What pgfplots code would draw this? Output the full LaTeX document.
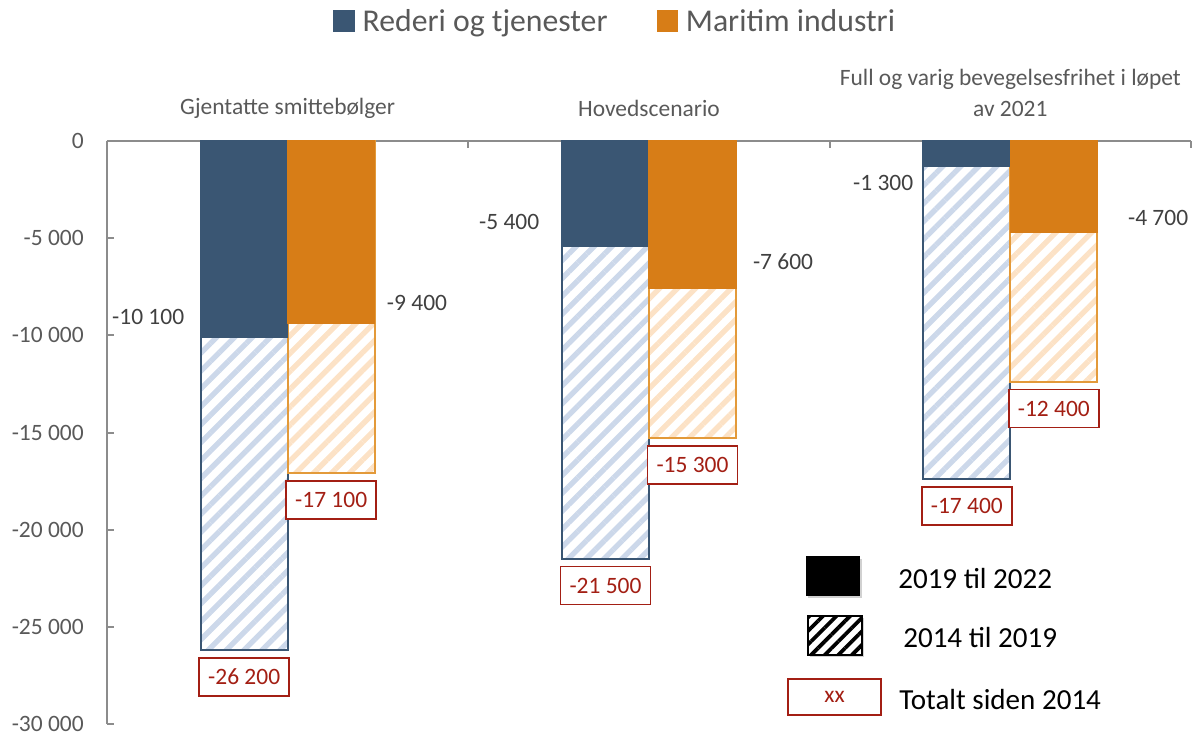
\documentclass[border=0pt]{standalone}
\usepackage{fontspec}
\setmainfont{Carlito}
\usepackage{pgfplots}
\pgfplotsset{compat=1.18}
\usetikzlibrary{patterns.meta}
\definecolor{cblue}{HTML}{3A5673}
\definecolor{corange}{HTML}{D77D17}
\definecolor{hblue}{HTML}{CCD8EA}
\definecolor{horange}{HTML}{FCE2C6}
\definecolor{oorange}{HTML}{E39A3A}
\definecolor{axgray}{HTML}{8C8C8C}
\definecolor{txgray}{HTML}{595959}
\definecolor{lblgray}{HTML}{404040}
\definecolor{dred}{HTML}{A31F14}
\tikzset{
  vallbl/.style={font=\fontsize{17.6}{20}\selectfont, text=lblgray, inner sep=0pt},
  grplbl/.style={font=\fontsize{17.6}{23.25}\selectfont, text=txgray, inner sep=0pt, align=center},
  totbox/.style={anchor=north, yshift=-5.25pt, draw=dred, text=dred, line width=1.1pt,
    minimum width=67.5pt, minimum height=28.5pt, fill=white, inner sep=0pt,
    font=\fontsize{17.6}{20}\selectfont},
}
\begin{document}
\begin{tikzpicture}[x=0.75pt,y=0.75pt]
\useasboundingbox (0,0) rectangle (1195,733);
\begin{axis}[
  at={(80.25pt,6.75pt)}, anchor=south west,
  scale only axis, width=813pt, height=437.25pt,
  xmin=-0.5, xmax=2.5, ymin=-30000, ymax=0,
  axis x line=top, axis y line=left,
  axis line style={axgray, line width=1.5pt, -},
  tick style={axgray, line width=1.5pt},
  major tick length=5.25pt, tick align=inside,
  xtick={-0.5,0.5,1.5,2.5}, xticklabels={},
  ytick={-30000,-25000,-20000,-15000,-10000,-5000,0},
  yticklabels={-30 000,-25 000,-20 000,-15 000,-10 000,-5 000,0},
  yticklabel style={font=\fontsize{17.6}{20}\selectfont, text=txgray, inner sep=0pt, anchor=east, xshift=-17.25pt},
  clip=false,
  legend columns=2,
  legend style={at={(0.2085,1.2058)}, anchor=west, draw=none, fill=none,
    font=\fontsize{23.8}{28}\selectfont, text=txgray, inner sep=0pt,
    nodes={inner sep=0pt}, column sep=6pt,
    /tikz/every even column/.append style={column sep=36.75pt}},
]
% hatched totals (2014 til 2022)
\addplot[ybar, bar width=0.2408, bar shift=-0.1204, draw=cblue, line width=1.5pt,
  pattern={Lines[angle=45,distance=9.5pt,line width=4pt]}, pattern color=hblue, forget plot]
  coordinates {(0,-26200) (1,-21500) (2,-17400)};
\addplot[ybar, bar width=0.2408, bar shift=0.1204, draw=oorange, line width=1.5pt,
  pattern={Lines[angle=45,distance=9.5pt,line width=4pt]}, pattern color=horange, forget plot]
  coordinates {(0,-17100) (1,-15300) (2,-12400)};
% solid 2019 til 2022
\addplot[ybar, bar width=0.2408, bar shift=-0.1204, fill=cblue, draw=cblue, line width=1pt,
  legend image code/.code={\fill[cblue] (0pt,-7.5pt) rectangle (15pt,7.5pt);}]
  coordinates {(0,-10100) (1,-5400) (2,-1300)};
\addlegendentry{Rederi og tjenester}
\addplot[ybar, bar width=0.2408, bar shift=0.1204, fill=corange, draw=corange, line width=1pt,
  legend image code/.code={\fill[corange] (0pt,-7.5pt) rectangle (15pt,7.5pt);}]
  coordinates {(0,-9400) (1,-7600) (2,-4700)};
\addlegendentry{Maritim industri}
% group labels
\node[grplbl] at (axis cs:0,0) [yshift=24.75pt] {Gjentatte smittebølger};
\node[grplbl] at (axis cs:1,0) [yshift=24.75pt] {Hovedscenario};
\node[grplbl] at (axis cs:2,0) [yshift=36.4pt] {Full og varig bevegelsesfrihet i løpet\\av 2021};
% value labels
\node[vallbl] at (axis cs:-0.386,-9057) {-10 100};
\node[vallbl] at (axis cs:0.358,-8336) {-9 400};
\node[vallbl] at (axis cs:0.613,-4168) {-5 400};
\node[vallbl] at (axis cs:1.371,-6227) {-7 600};
\node[vallbl] at (axis cs:1.648,-2161) {-1 300};
\node[vallbl] at (axis cs:2.409,-3962) {-4 700};
% totals
\node[totbox] at (axis cs:-0.1204,-26200) {-26 200};
\node[totbox] at (axis cs:0.1204,-17100) {-17 100};
\node[totbox] at (axis cs:0.8796,-21500) {-21 500};
\node[totbox] at (axis cs:1.1204,-15300) {-15 300};
\node[totbox] at (axis cs:1.8796,-17400) {-17 400};
\node[totbox] at (axis cs:2.1204,-12400) {-12 400};
\end{axis}
% bottom-right legend
\fill[black!30, opacity=0.6] (808,135) rectangle (862,174);
\fill[black] (806,137) rectangle (860,177);
\fill[black!30, opacity=0.6] (810,76) rectangle (864,115);
\fill[white] (808,78) rectangle (862,117);
\fill[pattern={Lines[angle=45,distance=7.2pt,line width=2.8pt]}, pattern color=black] (808,78) rectangle (862,117);
\draw[black, line width=1.5pt] (808,78) rectangle (862,117);
\draw[dred, line width=1.1pt] (788,18) rectangle (881,54);
\node[text=dred, font=\fontsize{17.6}{20}\selectfont] at (834.5,36) {xx};
\node[anchor=west, inner sep=0pt, font=\fontsize{21.8}{26}\selectfont] at (898,154) {2019 til 2022};
\node[anchor=west, inner sep=0pt, font=\fontsize{21.8}{26}\selectfont] at (903,95) {2014 til 2019};
\node[anchor=west, inner sep=0pt, font=\fontsize{21.8}{26}\selectfont] at (899,33) {Totalt siden 2014};
\end{tikzpicture}
\end{document}
